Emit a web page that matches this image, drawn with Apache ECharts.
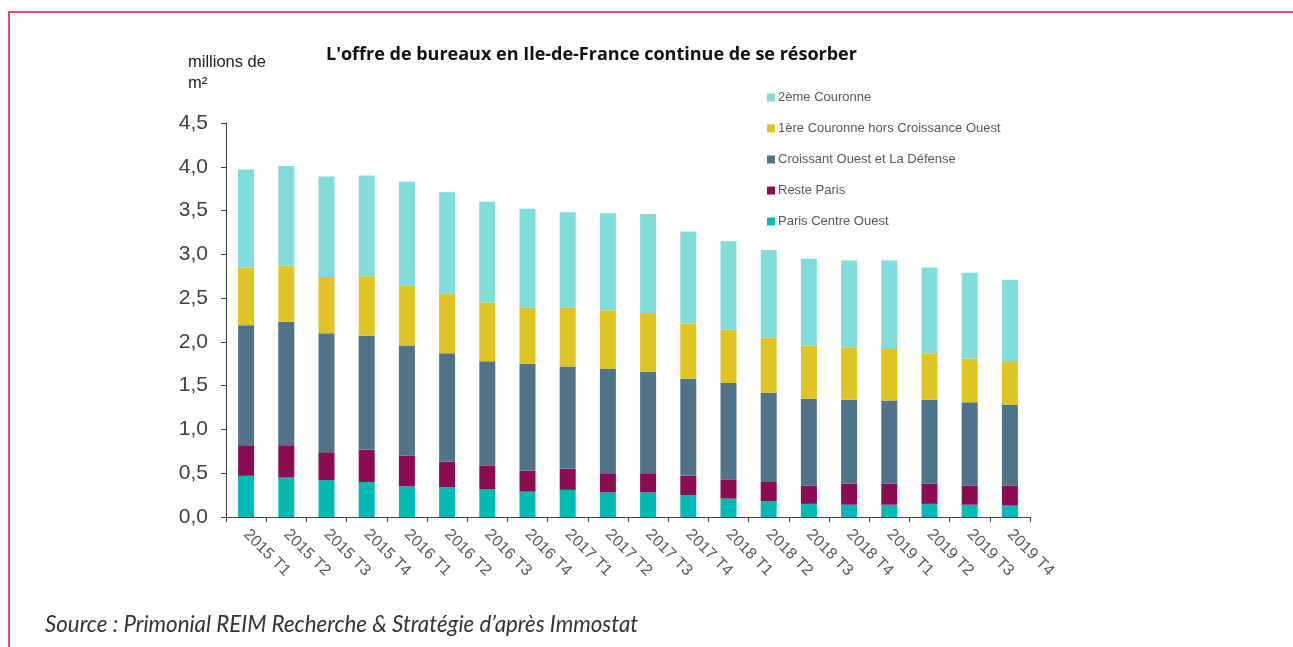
<!DOCTYPE html>
<html>
<head>
<meta charset="utf-8">
<script src="https://cdn.jsdelivr.net/npm/echarts@6/dist/echarts.min.js"></script>
<style>
  html, body { margin: 0; padding: 0; background: #fff; }
  #frame { position: absolute; left: 8px; top: 11px; width: 1300px; height: 650px;
           border-top: 2px solid #e8457e; border-left: 2px solid #e8457e; }
  #chart { position: absolute; left: 0; top: 0; width: 1293px; height: 647px; }
</style>
</head>
<body>
<div id="frame"></div>
<div id="chart"></div>
<script>
// trimestres
const quarters = ["2015 T1","2015 T2","2015 T3","2015 T4","2016 T1","2016 T2","2016 T3","2016 T4",
  "2017 T1","2017 T2","2017 T3","2017 T4","2018 T1","2018 T2","2018 T3","2018 T4",
  "2019 T1","2019 T2","2019 T3","2019 T4"];

// millions de m²
const parisCentreOuest = [0.47,0.45,0.42,0.40,0.35,0.34,0.32,0.29,0.31,0.28,0.28,0.25,0.21,0.18,0.15,0.14,0.14,0.15,0.14,0.13];
const resteParis = [0.35,0.37,0.32,0.37,0.35,0.29,0.27,0.24,0.24,0.22,0.22,0.22,0.22,0.22,0.21,0.24,0.24,0.23,0.22,0.23];
const croissantOuest = [1.37,1.41,1.36,1.30,1.26,1.24,1.19,1.22,1.17,1.19,1.16,1.11,1.10,1.02,0.99,0.96,0.95,0.96,0.95,0.92];
const premiereCouronne = [0.66,0.64,0.64,0.68,0.68,0.68,0.67,0.64,0.67,0.67,0.67,0.63,0.61,0.63,0.61,0.60,0.59,0.53,0.50,0.50];
const deuxiemeCouronne = [1.12,1.14,1.15,1.15,1.19,1.16,1.15,1.13,1.09,1.11,1.13,1.05,1.01,1.00,0.99,0.99,1.01,0.98,0.98,0.93];

const yTicks = ["0,0","0,5","1,0","1,5","2,0","2,5","3,0","3,5","4,0","4,5"];

const seriesDefs = [
  { name: "Paris Centre Ouest", data: parisCentreOuest, color: "#00bab3" },
  { name: "Reste Paris", data: resteParis, color: "#8c0c52" },
  { name: "Croissant Ouest et La Défense", data: croissantOuest, color: "#51738a" },
  { name: "1ère Couronne hors Croissance Ouest", data: premiereCouronne, color: "#e0c426" },
  { name: "2ème Couronne", data: deuxiemeCouronne, color: "#80ddd9" }
];

const chart = echarts.init(document.getElementById("chart"));

chart.setOption({
  animation: false,
  title: [
    {
      text: "L'offre de bureaux en Ile-de-France continue de se résorber",
      left: 321, top: 41,
      textStyle: { fontFamily: "Open Sans", fontWeight: "bold", fontSize: 18, color: "#111" }
    },
    {
      text: "Source : Primonial REIM Recherche & Stratégie d’après Immostat",
      left: 40, top: 609,
      textStyle: { fontFamily: "Lato", fontStyle: "italic", fontWeight: "normal", fontSize: 22.3, color: "#333" }
    }
  ],
  legend: {
    orient: "vertical",
    left: 762, top: 86,
    itemWidth: 8, itemHeight: 8, itemGap: 18,
    icon: "rect",
    data: ["2ème Couronne","1ère Couronne hors Croissance Ouest","Croissant Ouest et La Défense","Reste Paris","Paris Centre Ouest"],
    textStyle: { fontFamily: "Liberation Sans", fontSize: 13, color: "#595959", padding: [0,0,0,-2] }
  },
  grid: { left: 226, right: 263, top: 123, bottom: 130 },
  xAxis: {
    type: "category",
    data: quarters,
    axisLine: { lineStyle: { color: "#404040", width: 1 } },
    axisTick: { show: true, length: 5, lineStyle: { color: "#404040" } },
    axisLabel: { rotate: -45, margin: 15, fontFamily: "Liberation Sans", fontSize: 16, color: "#595959" }
  },
  yAxis: {
    type: "value",
    name: "millions de\nm²",
    nameLocation: "end",
    nameGap: 29,
    nameTextStyle: { fontFamily: "Liberation Sans", fontSize: 16.5, color: "#222", align: "left", padding: [0,0,0,-38], lineHeight: 21 },
    min: 0, max: 4.5, interval: 0.5,
    splitLine: { show: false },
    axisLine: { show: true, lineStyle: { color: "#404040", width: 1 } },
    axisTick: { show: true, length: 5, lineStyle: { color: "#404040" } },
    axisLabel: {
      margin: 18, fontFamily: "Liberation Sans", fontSize: 21, color: "#404040",
      formatter: (v) => yTicks[Math.round(v / 0.5)]
    }
  },
  series: seriesDefs.map(s => ({
    name: s.name,
    type: "bar",
    stack: "total",
    barWidth: 16,
    data: s.data,
    itemStyle: { color: s.color }
  }))
});
</script>
</body>
</html>
